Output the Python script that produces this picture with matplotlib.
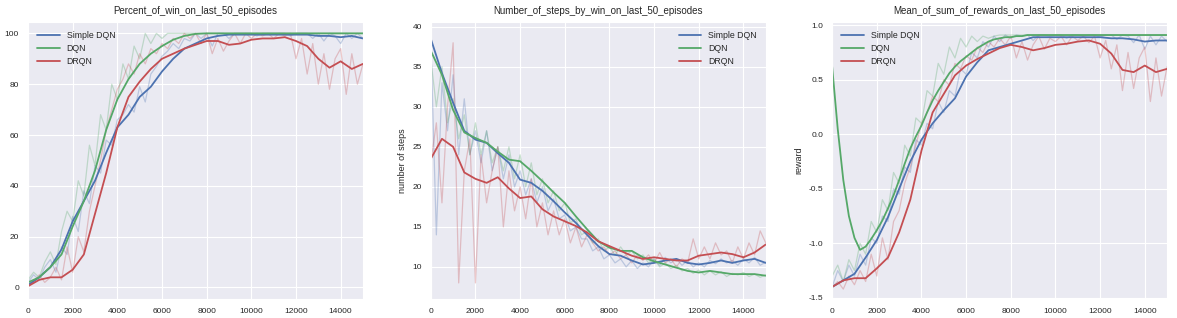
import numpy as np
import matplotlib
matplotlib.use("Agg")
import matplotlib.pyplot as plt
import seaborn as sns

# episodes for the raw curves (every 250) and the smoothed curves (every 500)
ep_raw = np.arange(0, 15001, 250)
ep_smooth = np.arange(0, 15001, 500)

labels = ["Simple DQN", "DQN", "DRQN"]
colors = ["#4C72B0", "#55A868", "#C44E52"]

# --- Percent of win on last 50 episodes ---
win_blue_r = [2, 5, 3, 8, 11, 6, 16, 13, 28, 22, 38, 33, 48, 45, 58, 56,
              66, 68, 72, 69, 79, 73, 84, 87, 91, 93, 96, 94, 98, 97, 100, 98,
              100, 95, 100, 100, 98, 100, 100, 100, 100, 99, 100, 100, 100, 100, 100, 99,
              100, 100, 100, 98, 100, 97, 100, 99, 96, 100, 98, 100, 98]
win_green_r = [3, 6, 4, 10, 14, 9, 22, 30, 26, 42, 36, 56, 48, 68, 62, 80,
               74, 88, 82, 95, 90, 100, 96, 100, 98, 100, 100, 100, 100, 100, 100, 100,
               100, 100, 100, 100, 100, 100, 100, 100, 100, 100, 100, 100, 100, 100, 100, 100,
               100, 100, 100, 100, 100, 100, 100, 100, 100, 100, 100, 100, 100]
win_red_r = [1, 2, 5, 2, 4, 8, 3, 16, 6, 20, 14, 30, 40, 50, 62, 70,
             78, 82, 88, 84, 92, 88, 94, 92, 96, 94, 98, 96, 100, 98, 100, 96,
             100, 92, 98, 93, 97, 100, 96, 100, 98, 100, 99, 100, 98, 100, 99, 100,
             90, 98, 84, 96, 80, 92, 78, 90, 94, 76, 92, 80, 88]
win_blue_s = [1, 4, 8, 15, 26, 34, 42, 53, 63, 68, 75, 79, 85, 90, 94, 96,
              98, 99, 99.5, 99.5, 99.5, 99.5, 99.5, 99.5, 99.5, 99.5, 99, 99, 98.5, 99, 98]
win_green_s = [2, 4, 8, 13, 24, 34, 46, 62, 74, 82, 88, 92, 95, 97.5, 99, 99.8,
               100, 100, 100, 100, 100, 100, 100, 100, 100, 100, 100, 100, 100, 100, 100]
win_red_s = [0.5, 3, 4, 4, 7, 13, 29, 45, 63, 75, 81, 86, 90, 92, 94, 95.5,
             97, 97, 95.5, 96, 97.5, 98, 98, 98.5, 97, 95, 90, 86.5, 89, 86, 88]

# --- Number of steps by win on last 50 episodes ---
steps_blue_r = [38.5, 14, 33, 27, 34, 24, 31, 24, 27, 23, 27, 22, 25, 21, 24, 20,
                22, 19, 21, 18, 20, 17, 18.5, 16, 16.5, 14.5, 15, 13.5, 13.5, 12, 12.5, 11,
                11.5, 10.5, 11, 10, 10.8, 9.8, 10.5, 10, 11, 10.2, 11.2, 10.5, 11, 10.2, 10.8, 10,
                10.5, 10, 10.8, 10.4, 11, 10.5, 10.8, 10.2, 11, 10.5, 11.2, 10.2, 10.6]
steps_green_r = [36, 30, 35, 28, 31, 26, 29, 24, 28, 24, 27, 23, 25, 22, 25, 21,
                 24, 20, 23, 19, 21, 18, 19.5, 17, 18, 15.5, 16, 14, 14.5, 13, 13.5, 12,
                 12.5, 11.5, 12.5, 11.5, 12, 11, 11.5, 10.5, 11, 10, 10.5, 9.8, 10.2, 9.5, 9.8, 9.2,
                 9.6, 9, 9.5, 9, 9.4, 8.8, 9.2, 9, 9.3, 8.8, 9.1, 8.7, 9]
steps_red_r = [23, 28, 18, 30, 38, 8, 22, 26, 8, 24, 18, 22, 25, 15, 22, 17,
               20, 16, 21, 15, 18, 14, 17, 14, 16, 13, 15, 12.5, 14, 13, 12, 12.5,
               11.5, 12, 11, 11.5, 10.5, 11.5, 10.8, 11.5, 10.5, 11.8, 10.5, 11, 10, 11, 10.5, 13.5,
               11, 12.5, 11, 13, 11.5, 12, 10.5, 12.5, 11, 13, 11.5, 14.5, 13]
steps_blue_s = [38.5, 34.2, 30.5, 27, 25.9, 25.5, 24.2, 23, 20.9, 20.5, 19.5, 18.2, 16.8, 15.5, 14, 12.6,
                11.6, 11.4, 10.8, 10.3, 10.5, 10.8, 11, 10.5, 10.3, 10.5, 10.8, 10.5, 10.8, 11, 10.5]
steps_green_s = [37, 34, 29.6, 26.8, 26.1, 25.5, 24.4, 23.4, 23.2, 22, 20.7, 19.3, 18, 16.3, 14.7, 13.2,
                 12.4, 12, 12, 11.2, 10.7, 10.3, 9.9, 9.5, 9.3, 9.5, 9.3, 9.1, 9.1, 9.1, 8.9]
steps_red_s = [23.5, 26, 25, 21.8, 21, 20.5, 21.2, 19.8, 18.6, 18.8, 17.2, 16.3, 15.7, 15.1, 14.3, 13.2,
               12.6, 12, 11.4, 11, 11.2, 11, 10.8, 10.8, 11.4, 11.6, 11.8, 11.6, 11.2, 11.8, 12.8]

# --- Mean of sum of rewards on last 50 episodes ---
rew_blue_r = [-1.4, -1.25, -1.35, -1.2, -1.3, -1.1, -1.2, -0.95, -1.0, -0.75, -0.8, -0.5, -0.55, -0.3, -0.35, -0.05,
              -0.1, 0.1, 0.05, 0.3, 0.2, 0.4, 0.35, 0.6, 0.55, 0.75, 0.7, 0.85, 0.8, 0.9, 0.85, 0.91,
              0.88, 0.91, 0.9, 0.91, 0.86, 0.91, 0.91, 0.9, 0.91, 0.91, 0.88, 0.91, 0.91, 0.9, 0.91, 0.91,
              0.89, 0.91, 0.91, 0.87, 0.91, 0.9, 0.84, 0.91, 0.78, 0.9, 0.82, 0.9, 0.85]
rew_green_r = [-1.3, -1.2, -1.35, -1.15, -1.25, -1.0, -1.1, -0.8, -0.9, -0.6, -0.7, -0.35, -0.45, -0.1, -0.2, 0.15,
               0.1, 0.4, 0.35, 0.65, 0.55, 0.8, 0.7, 0.88, 0.8, 0.9, 0.85, 0.9, 0.88, 0.9, 0.91, 0.91,
               0.91, 0.91, 0.91, 0.91, 0.91, 0.91, 0.91, 0.91, 0.91, 0.91, 0.91, 0.91, 0.91, 0.91, 0.91, 0.91,
               0.91, 0.91, 0.91, 0.91, 0.91, 0.91, 0.91, 0.91, 0.91, 0.91, 0.91, 0.91, 0.91]
rew_red_r = [-1.4, -1.35, -1.42, -1.3, -1.38, -1.25, -1.35, -1.1, -1.3, -0.95, -1.15, -0.8, -0.7, -0.45, -0.3, -0.1,
             0.1, 0.2, 0.35, 0.3, 0.5, 0.45, 0.65, 0.6, 0.72, 0.68, 0.8, 0.75, 0.85, 0.8, 0.88, 0.82,
             0.9, 0.7, 0.85, 0.68, 0.82, 0.9, 0.78, 0.88, 0.85, 0.9, 0.82, 0.9, 0.86, 0.9, 0.84, 0.9,
             0.7, 0.86, 0.6, 0.82, 0.4, 0.75, 0.42, 0.7, 0.8, 0.3, 0.7, 0.35, 0.62]
rew_blue_s = [-1.4, -1.34, -1.28, -1.13, -0.97, -0.76, -0.5, -0.25, -0.05, 0.1, 0.22, 0.33, 0.53, 0.66, 0.77, 0.8,
              0.83, 0.86, 0.89, 0.89, 0.89, 0.89, 0.89, 0.89, 0.89, 0.88, 0.88, 0.87, 0.85, 0.86, 0.86]
# DQN smoothed reward falls fast at the start, so it is read every 250 episodes
rew_green_s = [0.62, 0.05, -0.42, -0.75, -0.95, -1.06, -1.03, -0.96, -0.88, -0.79, -0.68, -0.56, -0.42, -0.27, -0.13, -0.02,
               0.08, 0.2, 0.31, 0.4, 0.48, 0.56, 0.62, 0.67, 0.71, 0.75, 0.79, 0.82, 0.85, 0.87, 0.88, 0.89,
               0.89, 0.9, 0.9, 0.91, 0.91, 0.91, 0.91, 0.91, 0.91, 0.91, 0.91, 0.91, 0.91, 0.91, 0.91, 0.91,
               0.91, 0.91, 0.91, 0.91, 0.91, 0.91, 0.91, 0.91, 0.91, 0.91, 0.91, 0.91, 0.91]
rew_red_s = [-1.4, -1.34, -1.32, -1.32, -1.23, -1.13, -0.9, -0.6, -0.15, 0.2, 0.37, 0.54, 0.63, 0.69, 0.74, 0.79,
             0.82, 0.8, 0.77, 0.79, 0.82, 0.83, 0.85, 0.86, 0.83, 0.74, 0.59, 0.57, 0.63, 0.57, 0.6]

sns.set_style("darkgrid")
plt.rcParams["font.family"] = ["Liberation Sans", "DejaVu Sans"]

fig = plt.figure(figsize=(11.77, 3.18), dpi=100)

panels = [
    dict(title="Percent_of_win_on_last_50_episodes", ylabel="percent of win",
         raw=[win_blue_r, win_green_r, win_red_r],
         smooth=[(ep_smooth, win_blue_s), (ep_smooth, win_green_s), (ep_smooth, win_red_s)],
         ylim=(-4.5, 104.5), yticks=np.arange(0, 101, 20), yfmt="{:.0f}",
         left=0.0238, legend_loc="upper left"),
    dict(title="Number_of_steps_by_win_on_last_50_episodes", ylabel="number of steps",
         raw=[steps_blue_r, steps_green_r, steps_red_r],
         smooth=[(ep_smooth, steps_blue_s), (ep_smooth, steps_green_s), (ep_smooth, steps_red_s)],
         ylim=(6.0, 40.6), yticks=np.arange(10, 41, 5), yfmt="{:.0f}",
         left=0.366, legend_loc="upper right"),
    dict(title="Mean_of_sum_of_rewards_on_last_50_episodes", ylabel="reward",
         raw=[rew_blue_r, rew_green_r, rew_red_r],
         smooth=[(ep_smooth, rew_blue_s), (ep_raw, rew_green_s), (ep_smooth, rew_red_s)],
         ylim=(-1.51, 1.03), yticks=np.arange(-1.5, 1.01, 0.5), yfmt="{:.1f}",
         left=0.707, legend_loc="upper left"),
]

for p in panels:
    ax = fig.add_axes([p["left"], 0.06, 0.2846, 0.871])
    # faint raw curves first, smoothed curves on top
    for vals, c in zip(p["raw"], colors):
        ax.plot(ep_raw, vals, color=c, lw=0.9, alpha=0.3)
    for (xs, vals), c, lab in zip(p["smooth"], colors, labels):
        ax.plot(xs, vals, color=c, lw=1.3, label=lab)

    ax.set_xlim(0, 15000)
    ax.set_ylim(*p["ylim"])
    ax.set_xticks(np.arange(0, 14001, 2000))
    ax.set_yticks(p["yticks"])
    ax.set_yticklabels([p["yfmt"].format(v) for v in p["yticks"]])
    ax.tick_params(labelsize=6, pad=3)
    ax.set_title(p["title"], fontsize=7, pad=6)
    ax.set_ylabel(p["ylabel"], fontsize=6.5)
    ax.set_xlabel("episodes", fontsize=6.5, labelpad=3)
    ax.legend(loc=p["legend_loc"], fontsize=6.3, frameon=False,
              handlelength=2.6, borderaxespad=0.6, labelspacing=0.5)

fig.savefig("out.png", dpi=100)
